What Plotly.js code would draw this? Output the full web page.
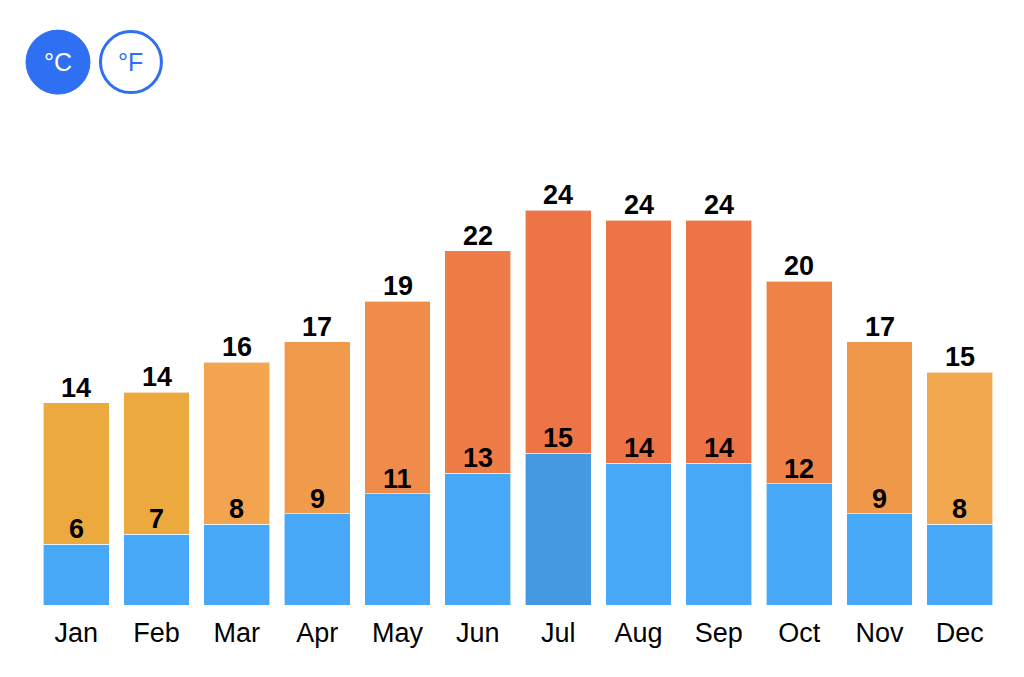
<!DOCTYPE html>
<html>
<head>
<meta charset="utf-8">
<script src="https://cdn.plot.ly/plotly-3.0.1.min.js"></script>
<style>
html,body{margin:0;padding:0;background:#fff;}
#chart{width:1024px;height:677px;}
</style>
</head>
<body>
<div id="chart"></div>
<script>
const months = ["Jan","Feb","Mar","Apr","May","Jun","Jul","Aug","Sep","Oct","Nov","Dec"];
const lows = [6,7,8,9,11,13,15,14,14,12,9,8];
const highs = [14,14,16,17,19,22,24,24,24,20,17,15];
const highColors = ["#ECA93E","#ECA93E","#F2A44F","#F09B4C","#EF8C4B","#EE7C47","#ED7446","#ED7446","#ED7446","#EE8347","#F0984A","#F1A84F"];
const lowColors = ["#48A8F8","#48A8F8","#48A8F8","#48A8F8","#48A8F8","#48A8F8","#4499DF","#48A8F8","#48A8F8","#48A8F8","#48A8F8","#48A8F8"];

const labelFont = {family: "Liberation Sans, Arial, sans-serif", size: 27, color: "#000"};

const traces = [
  {type: "bar", x: months, y: lows, marker: {color: lowColors, line: {color: "rgba(255,255,255,0.6)", width: 1}}, hoverinfo: "none"},
  {type: "bar", x: months, y: highs, marker: {color: highColors, line: {color: "rgba(255,255,255,0.6)", width: 1}}, hoverinfo: "none"}
];

const annotations = [];
months.forEach((m, i) => {
  annotations.push({x: m, y: lows[i], xref: "x", yref: "y", text: "<b>" + lows[i] + "</b>", showarrow: false, yanchor: "bottom", yshift: -2, font: labelFont});
  annotations.push({x: m, y: lows[i] + highs[i], xref: "x", yref: "y", text: "<b>" + highs[i] + "</b>", showarrow: false, yanchor: "bottom", yshift: -2, font: labelFont});
});
const cX = 0.0228, fX = 0.0985, bY = 1.248;
annotations.push({xref: "paper", yref: "paper", x: cX, y: bY, xanchor: "center", yanchor: "middle", text: "°C", showarrow: false, font: {family: "Liberation Sans, Arial, sans-serif", size: 25, color: "#fff"}});
annotations.push({xref: "paper", yref: "paper", x: fX, y: bY, xanchor: "center", yanchor: "middle", text: "°F", showarrow: false, font: {family: "Liberation Sans, Arial, sans-serif", size: 25, color: "#2F6FF2"}});

const layout = {
  width: 1024, height: 677,
  margin: {l: 36, r: 24, t: 170, b: 72},
  paper_bgcolor: "#fff", plot_bgcolor: "#fff",
  barmode: "stack", bargap: 0.18,
  showlegend: false,
  xaxis: {type: "category", showgrid: false, zeroline: false, showline: false, ticks: "",
          ticklabelstandoff: 9,
          tickfont: {family: "Liberation Sans, Arial, sans-serif", size: 27, color: "#000"}},
  yaxis: {range: [0, 42.98], visible: false, showgrid: false, zeroline: false, fixedrange: true},
  annotations: annotations,
  shapes: [
    {type: "circle", xref: "paper", yref: "paper", xsizemode: "pixel", ysizemode: "pixel",
     xanchor: cX, yanchor: bY, x0: -32, x1: 32, y0: -32, y1: 32,
     fillcolor: "#2F6FF2", line: {color: "#2F6FF2", width: 1}},
    {type: "circle", xref: "paper", yref: "paper", xsizemode: "pixel", ysizemode: "pixel",
     xanchor: fX, yanchor: bY, x0: -30.5, x1: 30.5, y0: -30.5, y1: 30.5,
     fillcolor: "#fff", line: {color: "#2F6FF2", width: 3}}
  ]
};

Plotly.newPlot("chart", traces, layout, {displayModeBar: false, staticPlot: true});
</script>
</body>
</html>
